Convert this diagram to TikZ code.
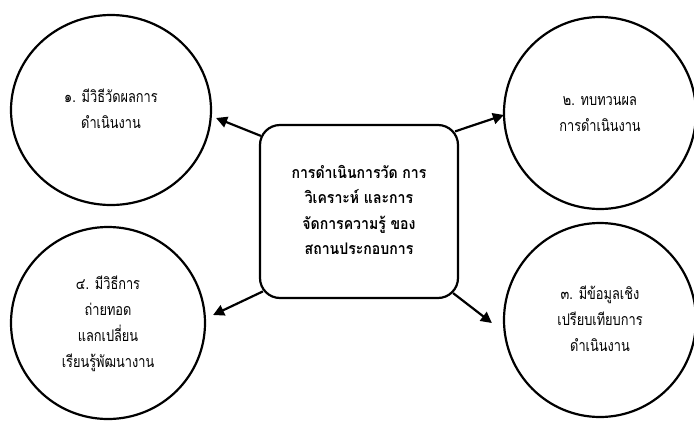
\documentclass[tikz,border=0pt]{standalone}
\usepackage{fontspec}
\newfontfamily\thai[Script=Thai,FakeStretch=0.8]{Loma}
\newfontfamily\thaihub[Script=Thai,FakeStretch=0.88]{Loma}
\usetikzlibrary{shapes.geometric,arrows.meta,calc}
\begin{document}
\begin{tikzpicture}[x=1pt,y=-1pt,
  every node/.style={font=\thai\fontsize{16}{26}\selectfont, align=center},
  topic/.style={ellipse, draw, line width=2.2pt, inner sep=0pt},
  hub/.style={rectangle, draw, line width=2.2pt, rounded corners=20pt,
    minimum width=198pt, minimum height=173pt, inner sep=0pt,
    font=\thaihub\bfseries\fontsize{16}{25.5}\selectfont},
  arr/.style={line width=2.2pt, -{Triangle[length=11pt,width=11pt]}}]
\useasboundingbox (0,0) rectangle (694,421);

% central box
\node[hub] (c) at (359,211.5) {\raisebox{-3pt}{\begin{tabular}{c}การดำเนินการวัด การ\\วิเคราะห์ และการ\\จัดการความรู้ ของ\\สถานประกอบการ\end{tabular}}};

% four topics
\node[topic, minimum width=200pt, minimum height=190pt] (e1) at (111,110)
  {\raisebox{-4pt}{\begin{tabular}{c}๑. มีวิธีวัดผลการ\\ดำเนินงาน\end{tabular}}};
\node[topic, minimum width=192pt, minimum height=192pt] (e2) at (600,113)
  {\raisebox{-2pt}{\begin{tabular}{c}๒. ทบทวนผล\\การดำเนินงาน\end{tabular}}};
\node[topic, minimum width=192pt, minimum height=194pt] (e3) at (600,320)
  {\raisebox{-4pt}{\begin{tabular}{c}๓. มีข้อมูลเชิง\\เปรียบเทียบการ\\ดำเนินงาน\end{tabular}}};
\node[topic, minimum width=194pt, minimum height=192pt] (e4) at (108,323)
  {\raisebox{-5pt}{\begin{tabular}{c}๔. มีวิธีการ\\ถ่ายทอด\\แลกเปลี่ยน\\เรียนรู้พัฒนางาน\end{tabular}}};

% arrows from the box corners
\draw[arr] ($(c.north west)+(2,12)$) -- ($(e1.east)+(4,8)$);
\draw[arr] ($(c.north east)+(-4,7.5)$) -- ($(e2.west)+(1,2)$);
\draw[arr] ($(c.south east)+(-6,-6)$) -- ($(e3.west)+(-11,3)$);
\draw[arr] ($(c.south west)+(4,-7.7)$) -- ($(e4.east)+(7,-8)$);
\end{tikzpicture}
\end{document}
